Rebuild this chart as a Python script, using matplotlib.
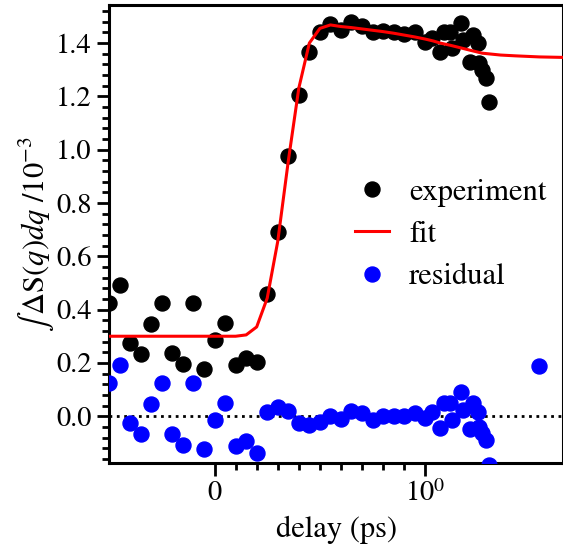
import numpy as np
import matplotlib
matplotlib.use("Agg")
import matplotlib.pyplot as plt
from matplotlib.ticker import AutoMinorLocator, FixedLocator

plt.rcParams['font.family'] = ['STIXGeneral', 'DejaVu Serif']
plt.rcParams['mathtext.fontset'] = 'stix'

# delay (ps) of each measurement
delay = [-0.50, -0.45, -0.40, -0.35, -0.30, -0.25, -0.20, -0.15, -0.10, -0.05,
         0.00, 0.05, 0.10, 0.15, 0.20, 0.25, 0.30, 0.35, 0.40, 0.45,
         0.50, 0.55, 0.60, 0.65, 0.70, 0.75, 0.80, 0.85, 0.90, 0.95,
         1.00, 1.09, 1.20, 1.25, 1.35, 1.39, 1.55, 1.58, 1.72, 1.79,
         1.89, 1.93, 2.00, 2.10, 2.18, 4.00]

experiment = [0.424, 0.492, 0.274, 0.233, 0.345, 0.424, 0.236, 0.195, 0.424, 0.176,
              0.285, 0.349, 0.191, 0.218, 0.203, 0.458, 0.690, 0.976, 1.205, 1.366,
              1.440, 1.470, 1.450, 1.480, 1.465, 1.440, 1.445, 1.440, 1.435, 1.440,
              1.405, 1.420, 1.366, 1.440, 1.440, 1.380, 1.475, 1.410, 1.330, 1.430,
              1.400, 1.325, 1.300, 1.270, 1.180, np.nan]

residual = [0.124, 0.191, -0.026, -0.068, 0.045, 0.124, -0.068, -0.109, 0.124, -0.124,
            -0.015, 0.049, -0.113, -0.094, -0.139, 0.015, 0.034, 0.019, -0.026, -0.034,
            -0.023, 0.000, -0.011, 0.019, 0.011, -0.015, 0.000, 0.000, 0.002, 0.013,
            -0.006, 0.015, -0.045, 0.049, 0.049, -0.015, 0.090, 0.023, -0.049, 0.049,
            0.015, -0.040, -0.064, -0.090, -0.184, 0.190]

fit_delay = [-0.50, 0.00, 0.10, 0.15, 0.20, 0.25, 0.30, 0.35, 0.40, 0.45,
             0.50, 0.55, 0.60, 0.65, 0.70, 0.75, 0.80, 0.85, 0.90, 0.95,
             1.00, 1.10, 1.20, 1.35, 1.50, 1.75, 2.00, 2.50, 3.00, 4.00, 5.50]
fit = [0.300, 0.300, 0.300, 0.305, 0.335, 0.443, 0.656, 0.957, 1.231, 1.400,
       1.455, 1.468, 1.462, 1.458, 1.453, 1.448, 1.443, 1.437, 1.430, 1.423,
       1.415, 1.408, 1.400, 1.392, 1.384, 1.372, 1.362, 1.355, 1.352, 1.348, 1.346]

xticks = [0, 1]
xticklabels = ['0', '$10^0$']
xminor = [0.1, 0.2, 0.3, 0.4, 0.5, 0.6, 0.7, 0.8, 0.9]

fs_tick = 20.5
fs = 22

fig = plt.figure(figsize=(5.63, 5.5), dpi=100)
ax = fig.add_axes([0.194, 0.158, 0.806, 0.833])

ax.axhline(0, color='black', ls=':', lw=2, zorder=1)
ax.plot(delay, experiment, 'o', color='black', ms=10.8, label='experiment', zorder=3)
ax.plot(fit_delay, fit, '-', color='red', lw=2.2, label='fit', zorder=4)
ax.plot(delay, residual, 'o', color='blue', ms=10.8, label='residual', zorder=3)

# linear between -1 and 1, log beyond
ax.set_xscale('symlog', linthresh=1, linscale=1)
ax.set_xlim(-0.5, 5.33)
ax.set_ylim(-0.176, 1.543)

ax.set_xticks(xticks)
ax.set_xticklabels(xticklabels)
ax.xaxis.set_minor_locator(FixedLocator(xminor))
ax.yaxis.set_major_locator(FixedLocator(np.arange(0, 1.5, 0.2)))
ax.yaxis.set_minor_locator(AutoMinorLocator(5))

ax.tick_params(which='major', direction='out', length=9, width=2, labelsize=fs_tick)
ax.tick_params(which='minor', direction='out', length=5, width=2)
ax.tick_params(top=False, right=False, which='both')
for s in ax.spines.values():
    s.set_linewidth(2.2)

ax.set_xlabel('delay (ps)', fontsize=fs, labelpad=6)
ax.set_ylabel(r'$\int\,\Delta\mathrm{S}(q)dq$ $/10^{-3}$', fontsize=fs, labelpad=0)

ax.legend(loc='center left', bbox_to_anchor=(0.482, 0.498), frameon=False, fontsize=fs,
          handlelength=1.1, handletextpad=0.65, labelspacing=0.45, numpoints=1,
          borderpad=0.4)

fig.savefig('out.png', dpi=100)
